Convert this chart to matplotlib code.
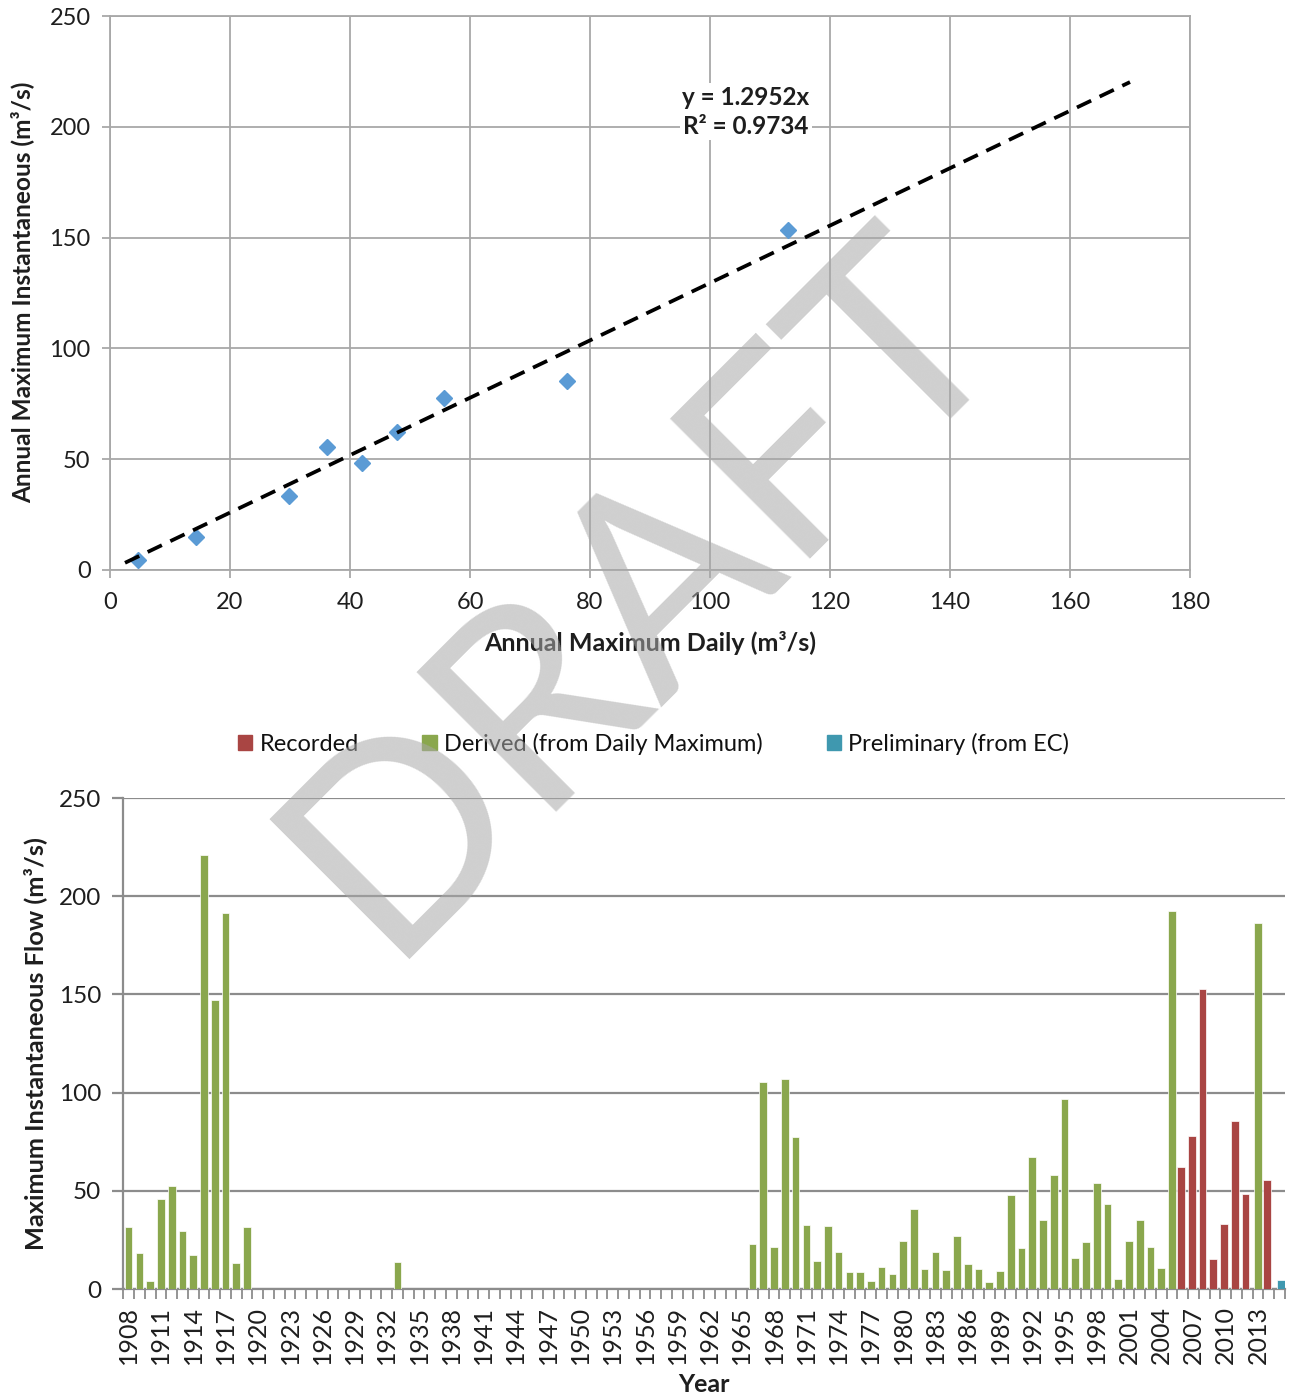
import numpy as np
import matplotlib
matplotlib.use("Agg")
import matplotlib.pyplot as plt
from matplotlib.patches import Patch

plt.rcParams['font.family'] = ['Lato', 'DejaVu Sans']

# top chart: daily vs instantaneous annual maxima
daily_max = [4.6, 14.4, 29.9, 36.1, 42.0, 47.8, 55.6, 76.1, 113.0]
inst_max = [4.5, 15.0, 33.4, 55.6, 48.4, 62.3, 77.8, 85.4, 153.4]
slope = 1.2952
r2 = 0.9734
trend_x = [2.5, 170.0]

# bottom chart: annual maximum instantaneous flow by year
years = list(range(1908, 2016))
derived_years = list(range(1908, 1920)) + [1933] + list(range(1966, 2006)) + [2013]
derived_flow = [31.4, 18.5, 4.2, 45.7, 52.4, 29.5, 17.2, 221.1, 147.0, 191.6, 13.1, 31.4,
                13.6,
                22.8, 105.2, 21.4, 106.9, 77.2, 32.4, 14.3, 32.1, 18.7, 8.7,
                8.5, 4.1, 11.0, 7.5, 24.3, 40.9, 10.3, 18.8, 9.8, 26.8,
                12.7, 10.0, 3.4, 9.0, 48.0, 21.0, 67.0, 35.1, 58.0, 96.7,
                15.6, 24.1, 53.8, 43.3, 5.3, 24.4, 35.3, 21.2, 10.7, 192.5,
                186.4]
recorded_years = [2006, 2007, 2008, 2009, 2010, 2011, 2012, 2014]
recorded_flow = [62.3, 78.1, 152.9, 15.1, 33.3, 85.5, 48.2, 55.7]
prelim_years = [2015]
prelim_flow = [4.6]

red = '#A94543'
green = '#8AA74D'
teal = '#3F98AF'
grid_top = '#a8a8a8'
grid_bot = '#8c8c8c'
txt = '#1e1e1e'

fig = plt.figure(figsize=(12.89, 13.98), dpi=100)

# ---- scatter ----
ax1 = fig.add_axes([110/1289, (1398-570)/1398, 1080/1289, 554/1398])
ax1.plot(daily_max, inst_max, ls='none', marker='D', ms=8, color='#5B9BD5', zorder=3)
tx = np.array(trend_x)
ax1.plot(tx, slope*tx, color='black', lw=2.7, dashes=(4.2, 2.5), zorder=4)
ax1.set_xlim(0, 180)
ax1.set_ylim(0, 250)
ax1.set_xticks(np.arange(0, 181, 20))
ax1.set_yticks(np.arange(0, 251, 50))
ax1.grid(True, color=grid_top, lw=1.3)
ax1.set_axisbelow(True)
for s in ax1.spines.values():
    s.set_color(grid_top)
    s.set_linewidth(1.3)
ax1.tick_params(length=6, width=1.3, color=grid_top, labelsize=17, labelcolor=txt)
ax1.tick_params(axis='x', pad=10)
ax1.tick_params(axis='y', pad=8)
ax1.text(106, 206.7, 'y = %.4fx\nR² = %.4f' % (slope, r2), ha='center', va='center',
         fontsize=17.5, fontweight='bold', color=txt, linespacing=1.3,
         bbox=dict(facecolor='white', edgecolor='none', pad=2), zorder=5)
ax1.set_xlabel('Annual Maximum Daily (m³/s)', fontsize=18, fontweight='bold', color=txt)
ax1.set_ylabel('Annual Maximum Instantaneous (m³/s)', fontsize=17.6, fontweight='bold', color=txt)
ax1.xaxis.set_label_coords(0.5, -0.132)
ax1.xaxis.label.set_va('center')
ax1.yaxis.set_label_coords(-0.0815, 0.502)
ax1.yaxis.label.set_va('center')

# ---- bars ----
ax2 = fig.add_axes([123.3/1289, (1398-1289)/1398, (1285-123.3)/1289, 491/1398])
pos = {y: i for i, y in enumerate(years)}
w = 0.71
ax2.bar([pos[y] - 0.17 for y in recorded_years], recorded_flow, width=w, color=red,
        edgecolor='white', linewidth=0.5, zorder=3, label='Recorded')
ax2.bar([pos[y] for y in derived_years], derived_flow, width=w, color=green,
        edgecolor='white', linewidth=0.5, zorder=3, label='Derived (from Daily Maximum)')
ax2.bar([pos[y] + 0.15 for y in prelim_years], prelim_flow, width=w, color=teal,
        edgecolor='white', linewidth=0.5, zorder=3, label='Preliminary (from EC)')
ax2.set_xlim(-0.5, len(years) - 0.5)
ax2.set_ylim(0, 250)
ax2.set_yticks(np.arange(0, 251, 50))
ax2.yaxis.grid(True, color=grid_bot, lw=1.6)
ax2.set_axisbelow(True)
ax2.set_xticks(np.arange(0, len(years), 3))
ax2.set_xticklabels([str(y) for y in years[::3]], rotation=90)
ax2.set_xticks(np.arange(-0.5, len(years), 1), minor=True)
ax2.tick_params(axis='x', which='major', length=0, pad=12, labelsize=18, labelcolor=txt)
ax2.tick_params(axis='x', which='minor', length=7, width=1.3, color=grid_bot)
ax2.tick_params(axis='y', length=8, width=1.6, color=grid_bot, labelsize=17.5, pad=8, labelcolor=txt)
for side in ['top', 'right']:
    ax2.spines[side].set_visible(False)
for side in ['left', 'bottom']:
    ax2.spines[side].set_color(grid_bot)
    ax2.spines[side].set_linewidth(1.6)
ax2.set_xlabel('Year', fontsize=18, fontweight='bold', color=txt)
ax2.set_ylabel('Maximum Instantaneous Flow (m³/s)', fontsize=18.3, fontweight='bold', color=txt)
ax2.xaxis.set_label_coords(0.4999, -0.1955)
ax2.xaxis.label.set_va('center')
ax2.yaxis.set_label_coords(-0.076, 0.501)
ax2.yaxis.label.set_va('center')

handles = [Patch(color=red), Patch(color=green), Patch(color=teal)]
fig.legend(handles, ['Recorded', 'Derived (from Daily Maximum)', 'Preliminary (from EC)'],
           loc='center', bbox_to_anchor=(0.507, 1 - 744/1398), ncol=3, frameon=False,
           fontsize=17, handlelength=0.62, handleheight=0.62, handletextpad=0.3,
           columnspacing=2.7, labelcolor='#111111')

# watermark
fig.text(642/1289, 1 - 590/1398, 'DRAFT', rotation=45, fontsize=198, color='#a8a8a8',
         alpha=0.55, ha='center', va='center', zorder=10)

fig.savefig('out.png', dpi=100)
